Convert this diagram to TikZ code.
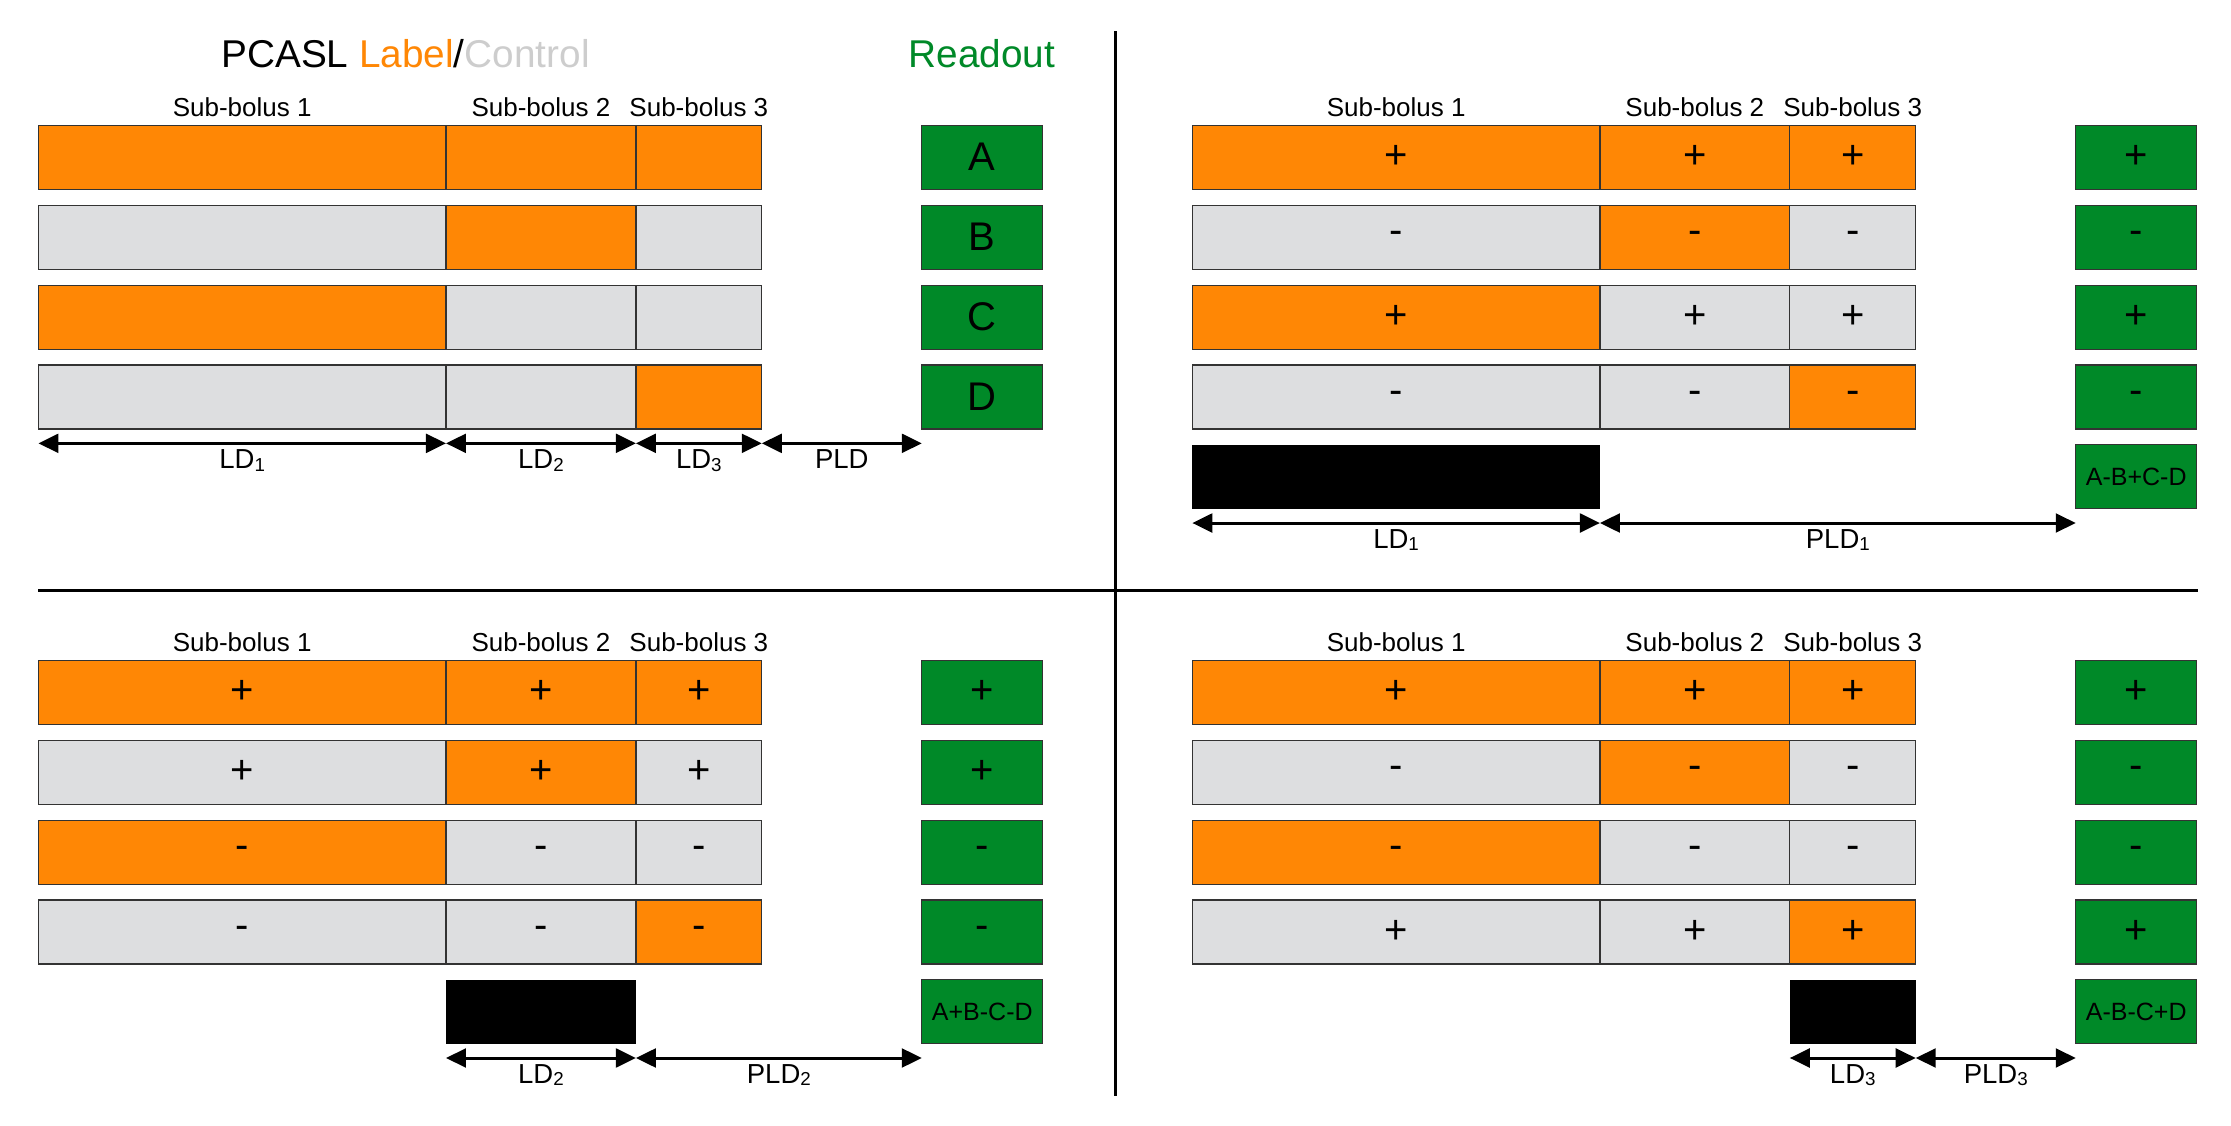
\documentclass[tikz,border=0pt]{standalone}
\usepackage{fontspec}
\setmainfont{Liberation Sans}
\usepackage{xcolor}
\definecolor{pcorange}{RGB}{255,135,5}
\definecolor{pcgray}{RGB}{221,222,224}
\definecolor{pclight}{RGB}{205,205,205}
\definecolor{pcgreen}{RGB}{0,137,40}
\usetikzlibrary{positioning, arrows.meta}
\newcommand{\ldsub}[1]{\raisebox{-1pt}{\fontsize{7.5}{8}\selectfont #1}}
\tikzstyle{Seg} = [
draw=black!80,
line width=0.5pt,
minimum height=0.9cm,
inner sep=0pt, outer sep=0pt,
font=\fontsize{16}{16}\selectfont]
\tikzstyle{Lab} = [Seg, fill=pcorange]
\tikzstyle{Ctl} = [Seg, fill=pcgray]
\tikzstyle{WA} = [minimum width=5.73cm]
\tikzstyle{WB} = [minimum width=2.67cm]
\tikzstyle{WC} = [minimum width=1.77cm]
\tikzstyle{Read} = [Seg, fill=pcgreen, minimum width=1.7cm]
\tikzstyle{Sum} = [Read, font=\fontsize{10}{10}\selectfont]
\tikzstyle{Blk} = [fill=black, minimum height=0.9cm, inner sep=0pt, outer sep=0pt]
\tikzstyle{Head} = [font=\fontsize{10.4}{11}\selectfont, inner sep=2pt]
\tikzstyle{Dim} = [below, inner sep=2pt, font=\fontsize{11}{12}\selectfont]
\tikzstyle{DimArrow} = [
line width=1.2pt,
{Triangle[length=8pt,width=7.5pt]}-{Triangle[length=8pt,width=7.5pt]}]
\tikzstyle{Divider} = [line width=1.4pt]

\begin{document}
\begin{tikzpicture}[x=0.02cm, y=-0.02cm]
    \useasboundingbox (0,0) rectangle (1568,791);

    \node (title) at (285,38) {\fontsize{15.5}{16}\selectfont PCASL \textcolor{pcorange}{Label}/\textcolor{pclight}{Control}};
    \node (readout) at (690,38) {\fontsize{15.5}{16}\selectfont\textcolor{pcgreen}{Readout}};

    % top left: label/control scheme
    \foreach \r/\fA/\fB/\fC/\rdT in {0/Lab/Lab/Lab/A, 1/Ctl/Lab/Ctl/B, 2/Lab/Ctl/Ctl/C, 3/Ctl/Ctl/Lab/D}{
        \node[\fA, WA, anchor=north west] (tl-\r-1) at ({27},{88+56.2*\r}) {};
        \node[\fB, WB, right=0pt of tl-\r-1] (tl-\r-2) {};
        \node[\fC, WC, right=0pt of tl-\r-2] (tl-\r-3) {};
        \node[Read, right=2.25cm of tl-\r-3] (tl-\r-ro) {\rdT};
    }

    % top right: decode sub-bolus 1
    \foreach \r/\fA/\fB/\fC/\sgA/\sgB/\sgC/\rdT in {0/Lab/Lab/Lab/+/+/+/+, 1/Ctl/Lab/Ctl/-/-/-/-, 2/Lab/Ctl/Ctl/+/+/+/+, 3/Ctl/Ctl/Lab/-/-/-/-}{
        \node[\fA, WA, anchor=north west] (tr-\r-1) at ({838},{88+56.2*\r}) {\sgA};
        \node[\fB, WB, right=0pt of tr-\r-1] (tr-\r-2) {\sgB};
        \node[\fC, WC, right=0pt of tr-\r-2] (tr-\r-3) {\sgC};
        \node[Read, right=2.25cm of tr-\r-3] (tr-\r-ro) {\rdT};
    }

    % bottom left: decode sub-bolus 2
    \foreach \r/\fA/\fB/\fC/\sgA/\sgB/\sgC/\rdT in {0/Lab/Lab/Lab/+/+/+/+, 1/Ctl/Lab/Ctl/+/+/+/+, 2/Lab/Ctl/Ctl/-/-/-/-, 3/Ctl/Ctl/Lab/-/-/-/-}{
        \node[\fA, WA, anchor=north west] (bl-\r-1) at ({27},{464+56.2*\r}) {\sgA};
        \node[\fB, WB, right=0pt of bl-\r-1] (bl-\r-2) {\sgB};
        \node[\fC, WC, right=0pt of bl-\r-2] (bl-\r-3) {\sgC};
        \node[Read, right=2.25cm of bl-\r-3] (bl-\r-ro) {\rdT};
    }

    % bottom right: decode sub-bolus 3
    \foreach \r/\fA/\fB/\fC/\sgA/\sgB/\sgC/\rdT in {0/Lab/Lab/Lab/+/+/+/+, 1/Ctl/Lab/Ctl/-/-/-/-, 2/Lab/Ctl/Ctl/-/-/-/-, 3/Ctl/Ctl/Lab/+/+/+/+}{
        \node[\fA, WA, anchor=north west] (br-\r-1) at ({838},{464+56.2*\r}) {\sgA};
        \node[\fB, WB, right=0pt of br-\r-1] (br-\r-2) {\sgB};
        \node[\fC, WC, right=0pt of br-\r-2] (br-\r-3) {\sgC};
        \node[Read, right=2.25cm of br-\r-3] (br-\r-ro) {\rdT};
    }

    \foreach \p in {tl, tr, bl, br}{
        \node[Head, above=1pt of \p-0-1] (\p-sb1) {Sub-bolus 1};
        \node[Head, above=1pt of \p-0-2] (\p-sb2) {Sub-bolus 2};
        \node[Head, above=1pt of \p-0-3] (\p-sb3) {Sub-bolus 3};
    }

    % durations, top left
    \coordinate (tl-a0) at ([yshift=-0.2cm]tl-3-1.south west);
    \coordinate (tl-a1) at ([yshift=-0.2cm]tl-3-2.south west);
    \coordinate (tl-a2) at ([yshift=-0.2cm]tl-3-3.south west);
    \coordinate (tl-a3) at ([yshift=-0.2cm]tl-3-3.south east);
    \coordinate (tl-a4) at (tl-a3 -| tl-3-ro.west);
    \draw[DimArrow] (tl-a0) -- node[Dim] (tl-ld1) {LD\ldsub{1}} (tl-a1);
    \draw[DimArrow] (tl-a1) -- node[Dim] (tl-ld2) {LD\ldsub{2}} (tl-a2);
    \draw[DimArrow] (tl-a2) -- node[Dim] (tl-ld3) {LD\ldsub{3}} (tl-a3);
    \draw[DimArrow] (tl-a3) -- node[Dim] (tl-pld) {PLD} (tl-a4);

    % effective bolus and sum
    \node[Blk, WA, below=0.22cm of tr-3-1] (tr-blk) {};
    \node[Sum, below=0.22cm of tr-3-ro] (tr-sum) {A-B+C-D};
    \node[Blk, WB, below=0.22cm of bl-3-2] (bl-blk) {};
    \node[Sum, below=0.22cm of bl-3-ro] (bl-sum) {A+B-C-D};
    \node[Blk, WC, below=0.22cm of br-3-3] (br-blk) {};
    \node[Sum, below=0.22cm of br-3-ro] (br-sum) {A-B-C+D};

    \foreach \p/\n in {tr/1, bl/2, br/3}{
        \coordinate (\p-a0) at ([yshift=-0.2cm]\p-blk.south west);
        \coordinate (\p-a1) at ([yshift=-0.2cm]\p-blk.south east);
        \coordinate (\p-a2) at (\p-a1 -| \p-sum.west);
        \draw[DimArrow] (\p-a0) -- node[Dim] (\p-ld) {LD\ldsub{\n}} (\p-a1);
        \draw[DimArrow] (\p-a1) -- node[Dim] (\p-pld) {PLD\ldsub{\n}} (\p-a2);
    }

    \draw[Divider] (784,22) -- (784,770);
    \draw[Divider] (27,415) -- (1545,415);
\end{tikzpicture}
\end{document}
